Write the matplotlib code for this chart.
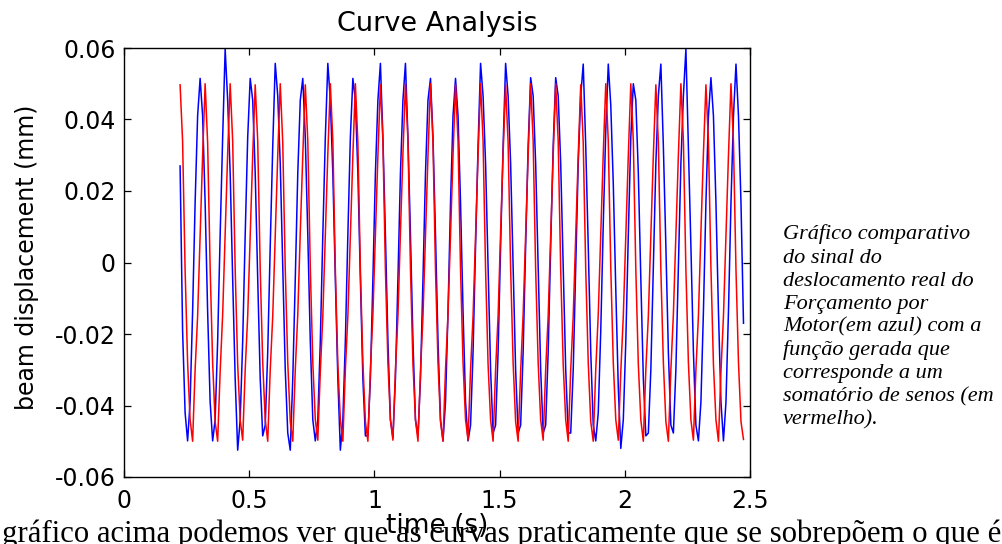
import numpy as np
import matplotlib
matplotlib.use("Agg")
import matplotlib.pyplot as plt

# ---------------- data ----------------
t_start = 0.224          # s, first sample of both records
dt = 0.01                # s, sample spacing

# red: generated sum-of-sines (one row = one 0.1 s cycle starting at a crest)
red_cycles = [
    [0.0497, 0.0340, -0.0020, -0.0280, -0.0440, -0.0500, -0.0300, -0.0150, 0.0080, 0.0300],
    [0.0500, 0.0335, -0.0015, -0.0280, -0.0445, -0.0500, -0.0305, -0.0145, 0.0085, 0.0305],
    [0.0500, 0.0340, -0.0020, -0.0285, -0.0440, -0.0497, -0.0300, -0.0150, 0.0080, 0.0300],
    [0.0497, 0.0340, -0.0020, -0.0280, -0.0440, -0.0500, -0.0300, -0.0150, 0.0080, 0.0300],
    [0.0500, 0.0335, -0.0020, -0.0280, -0.0445, -0.0500, -0.0300, -0.0145, 0.0085, 0.0300],
    [0.0497, 0.0340, -0.0015, -0.0280, -0.0440, -0.0497, -0.0305, -0.0150, 0.0080, 0.0305],
    [0.0500, 0.0340, -0.0020, -0.0285, -0.0440, -0.0500, -0.0300, -0.0150, 0.0080, 0.0300],
    [0.0500, 0.0335, -0.0020, -0.0280, -0.0445, -0.0500, -0.0300, -0.0145, 0.0080, 0.0300],
    [0.0497, 0.0340, -0.0020, -0.0280, -0.0440, -0.0497, -0.0300, -0.0150, 0.0085, 0.0305],
    [0.0500, 0.0340, -0.0015, -0.0285, -0.0440, -0.0500, -0.0305, -0.0150, 0.0080, 0.0300],
    [0.0500, 0.0335, -0.0020, -0.0280, -0.0445, -0.0500, -0.0300, -0.0145, 0.0080, 0.0300],
    [0.0497, 0.0340, -0.0020, -0.0280, -0.0440, -0.0497, -0.0300, -0.0150, 0.0080, 0.0300],
    [0.0500, 0.0340, -0.0020, -0.0285, -0.0440, -0.0500, -0.0300, -0.0150, 0.0085, 0.0305],
    [0.0497, 0.0335, -0.0015, -0.0280, -0.0445, -0.0500, -0.0305, -0.0145, 0.0080, 0.0300],
    [0.0500, 0.0340, -0.0020, -0.0280, -0.0440, -0.0497, -0.0300, -0.0150, 0.0080, 0.0300],
    [0.0500, 0.0340, -0.0020, -0.0285, -0.0440, -0.0500, -0.0300, -0.0150, 0.0080, 0.0300],
    [0.0497, 0.0335, -0.0020, -0.0280, -0.0445, -0.0500, -0.0300, -0.0145, 0.0085, 0.0305],
    [0.0500, 0.0340, -0.0015, -0.0280, -0.0440, -0.0497, -0.0305, -0.0150, 0.0080, 0.0300],
    [0.0500, 0.0340, -0.0020, -0.0285, -0.0440, -0.0500, -0.0300, -0.0150, 0.0080, 0.0300],
    [0.0497, 0.0335, -0.0020, -0.0280, -0.0445, -0.0500, -0.0300, -0.0145, 0.0080, 0.0300],
    [0.0500, 0.0340, -0.0020, -0.0280, -0.0440, -0.0497, -0.0300, -0.0150, 0.0085, 0.0305],
    [0.0497, 0.0340, -0.0015, -0.0285, -0.0440, -0.0500, -0.0305, -0.0150, 0.0080, 0.0300],
    [0.0500, 0.0335, -0.0020, -0.0280, -0.0445, -0.0495],
]

# blue: measured displacement (quantised samples)
blue_rows = [
    [0.0270, -0.0190, -0.0420, -0.0499, -0.0390, -0.0137, 0.0167, 0.0410, 0.0515, 0.0410],
    [0.0167, -0.0137, -0.0390, -0.0499, -0.0440, -0.0220, 0.0077, 0.0350, 0.0597, 0.0454],
    [0.0250, -0.0046, -0.0325, -0.0525, -0.0440, -0.0220, 0.0077, 0.0350, 0.0515, 0.0454],
    [0.0250, -0.0046, -0.0325, -0.0485, -0.0455, -0.0250, 0.0046, 0.0325, 0.0557, 0.0466],
    [0.0277, -0.0016, -0.0300, -0.0477, -0.0525, -0.0325, -0.0046, 0.0250, 0.0454, 0.0515],
    [0.0350, 0.0077, -0.0220, -0.0440, -0.0499, -0.0440, -0.0220, 0.0077, 0.0350, 0.0557],
    [0.0454, 0.0250, -0.0046, -0.0325, -0.0525, -0.0440, -0.0220, 0.0077, 0.0350, 0.0515],
    [0.0454, 0.0250, -0.0046, -0.0325, -0.0485, -0.0485, -0.0325, -0.0046, 0.0250, 0.0454],
    [0.0557, 0.0350, 0.0077, -0.0220, -0.0440, -0.0490, -0.0325, -0.0046, 0.0250, 0.0454],
    [0.0557, 0.0350, 0.0077, -0.0220, -0.0440, -0.0485, -0.0325, -0.0046, 0.0250, 0.0454],
    [0.0515, 0.0350, 0.0077, -0.0220, -0.0440, -0.0499, -0.0390, -0.0137, 0.0167, 0.0410],
    [0.0515, 0.0410, 0.0167, -0.0137, -0.0390, -0.0499, -0.0455, -0.0250, 0.0046, 0.0325],
    [0.0557, 0.0466, 0.0277, -0.0016, -0.0300, -0.0477, -0.0455, -0.0250, 0.0046, 0.0325],
    [0.0557, 0.0466, 0.0277, -0.0016, -0.0300, -0.0477, -0.0455, -0.0250, 0.0046, 0.0325],
    [0.0517, 0.0466, 0.0277, -0.0016, -0.0300, -0.0477, -0.0455, -0.0250, 0.0046, 0.0325],
    [0.0517, 0.0466, 0.0277, -0.0016, -0.0300, -0.0477, -0.0477, -0.0300, -0.0016, 0.0277],
    [0.0466, 0.0555, 0.0325, 0.0046, -0.0250, -0.0455, -0.0499, -0.0420, -0.0190, 0.0107],
    [0.0370, 0.0555, 0.0440, 0.0220, -0.0076, -0.0350, -0.0520, -0.0440, -0.0220, 0.0077],
    [0.0350, 0.0500, 0.0454, 0.0250, -0.0046, -0.0325, -0.0485, -0.0477, -0.0300, -0.0016],
    [0.0277, 0.0466, 0.0555, 0.0325, 0.0046, -0.0250, -0.0455, -0.0477, -0.0300, -0.0016],
    [0.0277, 0.0466, 0.0597, 0.0325, 0.0046, -0.0250, -0.0455, -0.0499, -0.0390, -0.0137],
    [0.0167, 0.0410, 0.0517, 0.0410, 0.0167, -0.0137, -0.0390, -0.0499, -0.0390, -0.0137],
    [0.0167, 0.0410, 0.0555, 0.0410, 0.0167, -0.0170],
]

x_ticks = [0, 0.5, 1, 1.5, 2, 2.5]
x_ticklabels = ['0', '0.5', '1', '1.5', '2', '2.5']
y_ticks = [-0.06, -0.04, -0.02, 0, 0.02, 0.04, 0.06]
y_ticklabels = ['-0.06', '-0.04', '-0.02', '0', '0.02', '0.04', '0.06']

title = 'Curve Analysis'
xlabel = 'time (s)'
ylabel = 'beam displacement (mm)'
side_lines = ['Gráfico comparativo', 'do sinal do', 'deslocamento real do',
              'Forçamento por', 'Motor(em azul) com a', 'função gerada que',
              'corresponde a um', 'somatório de senos (em', 'vermelho).']
bottom_line = 'gráfico acima podemos ver que as curvas praticamente que se sobrepõem o que é'

# ---------------- figure ----------------
W, H = 1003, 544
fig = plt.figure(figsize=(W / 100, H / 100), dpi=100)
fig.patch.set_facecolor('white')

def px(x0, y0, x1, y1):
    return [x0 / W, 1 - y1 / H, (x1 - x0) / W, (y1 - y0) / H]

ax = fig.add_axes(px(124, 48, 750, 477))

red = np.concatenate([np.array(r, float) for r in red_cycles])
blue = np.concatenate([np.array(r, float) for r in blue_rows])
t_red = t_start + dt * np.arange(len(red))
t_blue = t_start + dt * np.arange(len(blue))

ax.plot(t_blue, blue, color='#0000ff', lw=1.1)
ax.plot(t_red, red, color='#ff0000', lw=1.1)

ax.set_xlim(0, 2.5)
ax.set_ylim(-0.06, 0.06)
sans = ['DejaVu Sans']
ax.set_xticks(x_ticks, x_ticklabels, fontsize=17, family=sans)
ax.set_yticks(y_ticks, y_ticklabels, fontsize=17, family=sans)
ax.tick_params(direction='in', length=5, width=0.9, top=True, right=True,
               color='black', pad=6)
ax.tick_params(axis='x', pad=9)
for s in ax.spines.values():
    s.set_linewidth(1.0)
    s.set_color('black')

ax.set_title(title, fontsize=19.5, family=sans, pad=12)
ax.set_xlabel(xlabel, fontsize=19, family=sans)
ax.set_ylabel(ylabel, fontsize=17, family=sans)
ax.xaxis.set_label_coords(0.5, (477 - 513) / 429)
ax.yaxis.set_label_coords((39 - 124) / 626, (477 - 257) / 429)

serif = ['Liberation Serif', 'DejaVu Serif']
for i, line in enumerate(side_lines):
    fig.text(783 / W, 1 - (239.5 + 23.1 * i) / H, line, fontsize=16,
             family=serif, style='italic', ha='left', va='baseline')

bt = fig.text(2 / W, 1 - 542 / H, bottom_line, fontsize=21, family=serif,
              ha='left', va='baseline')
# fit bottom line to the page width seen in the reference
fig.canvas.draw()
w = bt.get_window_extent().width
bt.set_fontsize(21 * 998 / w)

fig.savefig('out.png', dpi=100, facecolor='white')
